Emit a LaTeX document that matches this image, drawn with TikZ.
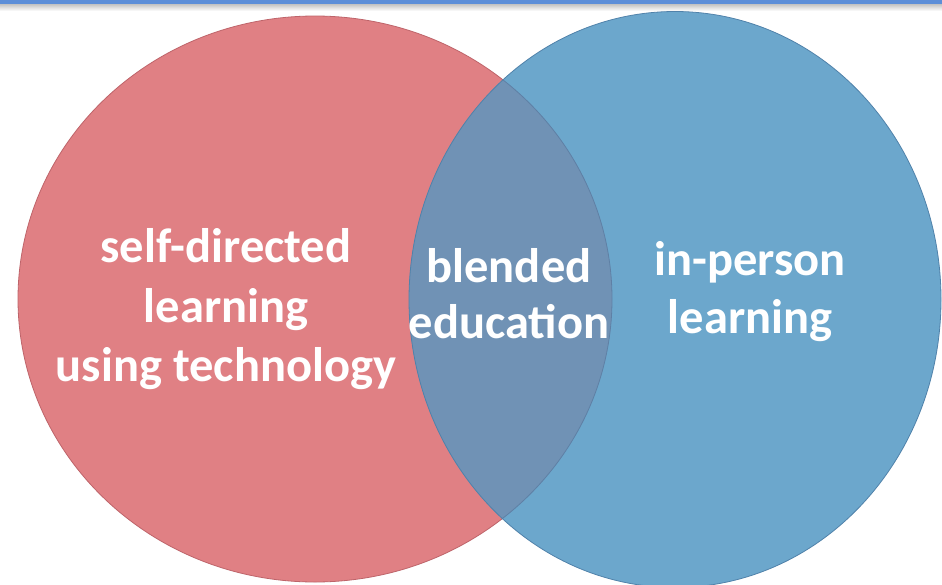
\documentclass[tikz,border=0pt]{standalone}
\usepackage{fontspec}
\setmainfont{Carlito}
\usetikzlibrary{shadings}
\definecolor{redfill}{RGB}{224,128,132}
\definecolor{redline}{RGB}{190,100,106}
\definecolor{bluefill}{RGB}{108,167,204}
\definecolor{blueline}{RGB}{80,130,170}
\definecolor{overlapfill}{RGB}{112,146,181}
\definecolor{overlapline}{RGB}{95,128,165}
\definecolor{topbar}{RGB}{92,142,216}
\tikzset{
  label/.style={text=white, font=\bfseries\fontsize{48.5}{60}\selectfont, align=center, inner sep=0pt, anchor=base},
}
\begin{document}
\begin{tikzpicture}[x=1pt,y=-1pt]
\useasboundingbox (0,0) rectangle (942,584);
\fill[white] (0,0) rectangle (942,584);
% top shadow (behind shapes)
\shade[top color=gray!55, bottom color=white] (0,3) rectangle (942,11);
% red ellipse
\fill[redfill] (315,299) ellipse [x radius=297, y radius=283];
\draw[redline, line width=0.8pt] (315,299) ellipse [x radius=297, y radius=283];
% blue ellipse
\fill[bluefill] (675,299.5) ellipse [x radius=266, y radius=288];
% overlap
\begin{scope}
  \clip (315,299) ellipse [x radius=297, y radius=283];
  \fill[overlapfill] (675,299.5) ellipse [x radius=266, y radius=288];
\end{scope}
\begin{scope}
  \clip (675,299.5) ellipse [x radius=266, y radius=288];
  \draw[overlapline, line width=0.8pt] (315,299) ellipse [x radius=297, y radius=283];
\end{scope}
\draw[blueline, line width=0.8pt] (675,299.5) ellipse [x radius=266, y radius=288];
% top bar
\fill[topbar] (0,0) rectangle (942,3.5);
% labels
\node[label] (l1) at (226,262) {self-directed};
\node[label] (l2) at (226,322) {learning};
\node[label] (l3) at (226,381) {using technology};
\node[label] (m1) at (509,282) {blended};
\node[label] (m2) at (509,338) {education};
\node[label] (r1) at (750,275) {in-person};
\node[label] (r2) at (750,333) {learning};
\end{tikzpicture}
\end{document}
